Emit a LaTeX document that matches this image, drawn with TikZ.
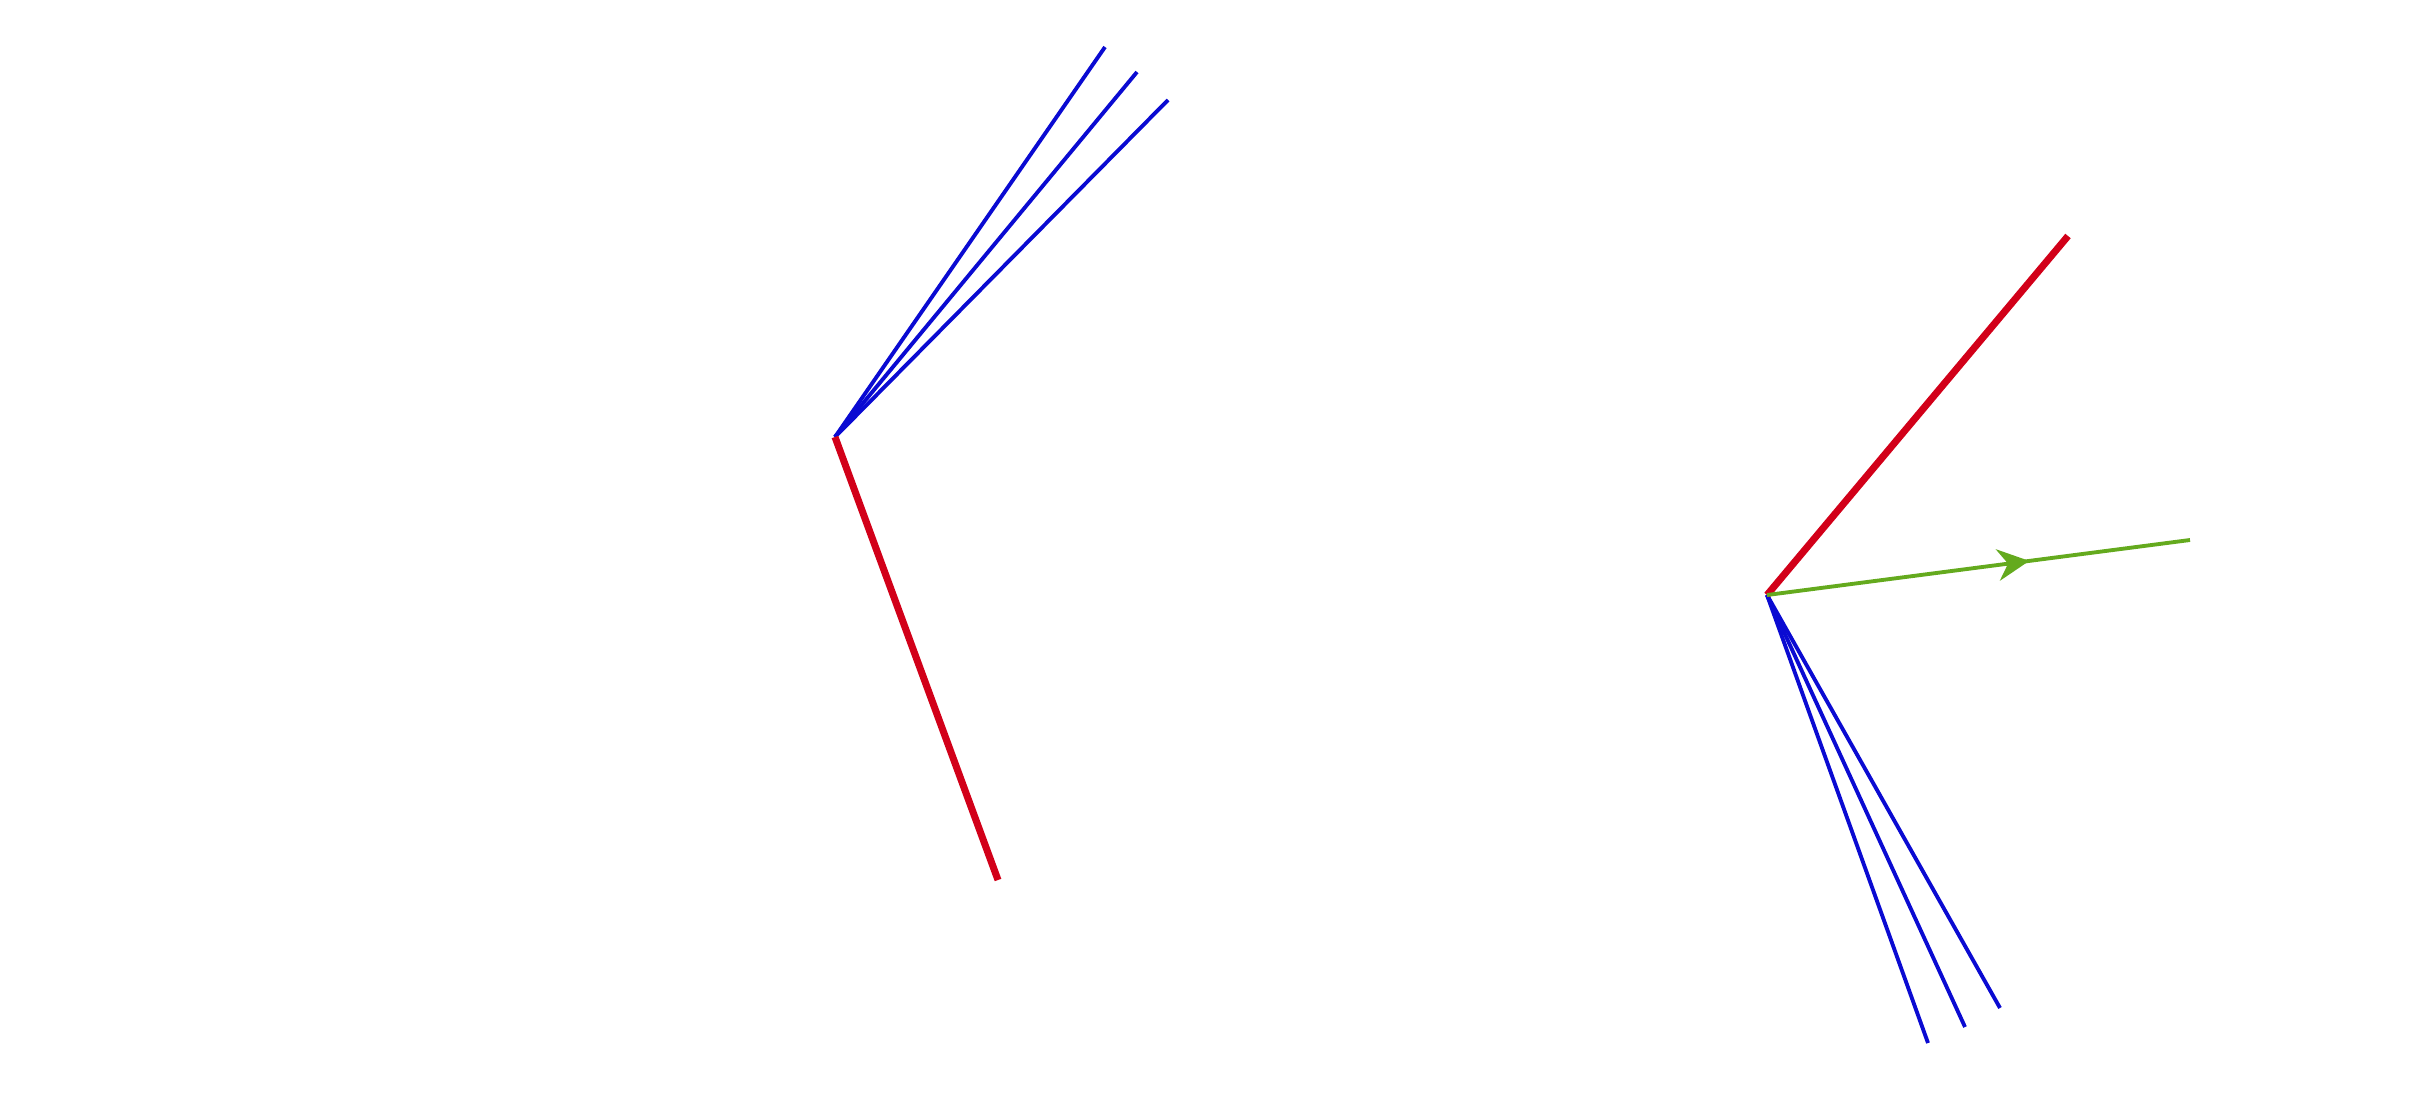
\documentclass[tikz,border=0pt]{standalone}
\usetikzlibrary{decorations.markings,arrows.meta}
\definecolor{rayblue}{RGB}{10,10,210}
\definecolor{rayred}{RGB}{210,0,25}
\definecolor{raygreen}{RGB}{100,170,30}
\tikzset{
  blueray/.style={draw=rayblue,line width=1.1pt},
  redray/.style={draw=rayred,line width=2pt},
  greenray/.style={draw=raygreen,line width=1.1pt,
    postaction={decorate},
    decoration={markings,mark=at position 0.62 with {\arrow[raygreen]{Stealth[length=9pt,width=9pt]}}}}
}
\begin{document}
\begin{tikzpicture}
  \useasboundingbox (0,0) rectangle (24.16,11.10);
  % left vertex
  \coordinate (vl) at (8.35,6.73);
  \coordinate (bl1) at (11.05,10.63);
  \coordinate (bl2) at (11.37,10.38);
  \coordinate (bl3) at (11.68,10.10);
  \coordinate (rl) at (9.98,2.30);
  \draw[blueray] (vl) -- (bl1);
  \draw[blueray] (vl) -- (bl2);
  \draw[blueray] (vl) -- (bl3);
  \draw[redray] (vl) -- (rl);
  % right vertex
  \coordinate (vr) at (17.67,5.15);
  \coordinate (rr) at (20.68,8.74);
  \coordinate (gr) at (21.90,5.70);
  \coordinate (br1) at (19.28,0.67);
  \coordinate (br2) at (19.65,0.83);
  \coordinate (br3) at (20.00,1.02);
  \draw[blueray] (vr) -- (br1);
  \draw[blueray] (vr) -- (br2);
  \draw[blueray] (vr) -- (br3);
  \draw[redray] (vr) -- (rr);
  \draw[greenray] (vr) -- (gr);
\end{tikzpicture}
\end{document}
